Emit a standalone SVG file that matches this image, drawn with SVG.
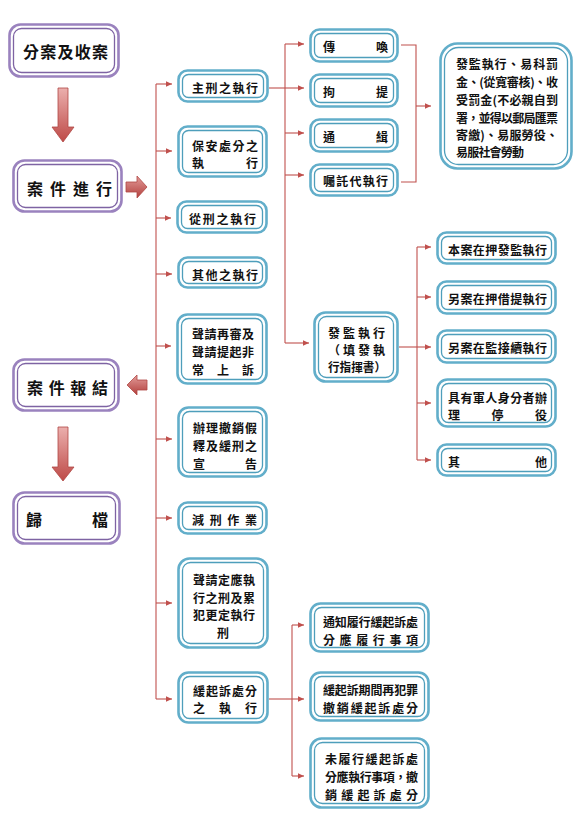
<svg xmlns="http://www.w3.org/2000/svg" width="578" height="816" viewBox="0 0 578 816">
<defs>
<style>
.bo{fill:#fff;stroke:#62AECA;stroke-width:2.6}
.bi{fill:none;stroke:#4E9EBB;stroke-width:1.3}
.po{fill:#fff;stroke:#9A82BE;stroke-width:2.6}
.pi{fill:none;stroke:#7E63A3;stroke-width:1.3}
.t{font-family:"Noto Sans CJK TC","Noto Sans CJK SC",sans-serif;font-weight:bold;font-size:12px;fill:#111;dominant-baseline:central}
.tp{font-family:"Noto Sans CJK TC","Noto Sans CJK SC",sans-serif;font-weight:bold;font-size:16px;fill:#111;dominant-baseline:central}
.c{fill:none;stroke:#C0504D;stroke-width:1.1}
.ca{fill:none;stroke:#C0504D;stroke-width:1.1;marker-end:url(#ah)}
.blk{stroke:#B04744;stroke-width:0.8}
</style>
<marker id="ah" viewBox="0 0 10 10" refX="10" refY="5" markerWidth="7" markerHeight="6" orient="auto" markerUnits="userSpaceOnUse">
<path d="M0,0.5 L10,5 L0,9.5z" fill="#C0504D"/>
</marker>
<linearGradient id="gv" x1="0" y1="0" x2="0" y2="1">
<stop offset="0" stop-color="#EBAFAD"/>
<stop offset="1" stop-color="#BE4A47"/>
</linearGradient>
<linearGradient id="gh" x1="0" y1="0" x2="0" y2="1">
<stop offset="0" stop-color="#E39C9A"/>
<stop offset="1" stop-color="#B23F3C"/>
</linearGradient>
</defs>
<rect width="578" height="816" fill="#fff"/>

<g id="block-arrows">
<path class="blk" fill="url(#gv)" d="M58,88 H68 V127 H74 L63,142 L52,127 H58 Z"/>
<path class="blk" fill="url(#gh)" d="M126,182 H137 V176 L147,187 L137,198 V192 H126 Z"/>
<path class="blk" fill="url(#gh)" d="M147,380 H137 V375 L127,385 L137,395 V390 H147 Z"/>
<path class="blk" fill="url(#gv)" d="M58,427 H68 V467 H74 L63,481 L52,467 H58 Z"/>
</g>

<g id="connectors">
<path class="c" d="M156,84 V699"/>
<path class="ca" d="M156,84 H172"/>
<path class="ca" d="M156,151 H172"/>
<path class="ca" d="M156,218 H171"/>
<path class="ca" d="M156,274 H172"/>
<path class="ca" d="M156,346 H171"/>
<path class="ca" d="M156,439 H172"/>
<path class="ca" d="M156,518 H172"/>
<path class="ca" d="M156,603 H172"/>
<path class="ca" d="M156,699 H172"/>
<path class="c" d="M269,88 H285"/>
<path class="c" d="M285,44 V343"/>
<path class="ca" d="M285,44 H304"/>
<path class="ca" d="M285,88 H304"/>
<path class="ca" d="M285,133 H304"/>
<path class="ca" d="M285,175 H304"/>
<path class="ca" d="M285,343 H309"/>
<path class="c" d="M401,45 H416 V182 H401"/>
<path class="ca" d="M416,106 H431"/>
<path class="c" d="M399,347 H417"/>
<path class="c" d="M417,247 V460"/>
<path class="ca" d="M417,247 H431"/>
<path class="ca" d="M417,297 H431"/>
<path class="ca" d="M417,347 H431"/>
<path class="ca" d="M417,403 H431"/>
<path class="ca" d="M417,460 H431"/>
<path class="c" d="M269,699 H292"/>
<path class="c" d="M292,625 V776"/>
<path class="ca" d="M292,625 H304"/>
<path class="ca" d="M292,699 H304"/>
<path class="ca" d="M292,776 H304"/>
</g>

<g id="n-fenan">
<rect class="po" x="9.5" y="24.5" width="109" height="52" rx="11"/>
<rect class="pi" x="13.5" y="28.5" width="101" height="44" rx="8"/>
<text class="tp" x="23" y="51" textLength="85" lengthAdjust="spacing">分案及收案</text>
</g>
<g id="n-jinxing">
<rect class="po" x="13.5" y="160.5" width="108" height="51" rx="11"/>
<rect class="pi" x="17.5" y="164.5" width="100" height="43" rx="8"/>
<text class="tp" x="27" y="188" textLength="85" lengthAdjust="spacing">案件進行</text>
</g>
<g id="n-baojie">
<rect class="po" x="13.5" y="359.5" width="105" height="51" rx="11"/>
<rect class="pi" x="17.5" y="363.5" width="97" height="43" rx="8"/>
<text class="tp" x="27" y="387" textLength="81" lengthAdjust="spacing">案件報結</text>
</g>
<g id="n-guidang">
<rect class="po" x="13.5" y="492.5" width="106" height="51" rx="11"/>
<rect class="pi" x="17.5" y="496.5" width="98" height="43" rx="8"/>
<text class="tp" x="26" y="519" textLength="82" lengthAdjust="spacing">歸檔</text>
</g>

<g id="n-zhuxing">
<rect class="bo" x="178.5" y="70.5" width="89" height="31" rx="9"/>
<rect class="bi" x="182.5" y="74.5" width="81" height="23" rx="6"/>
<text class="t" x="192" y="87" textLength="66" lengthAdjust="spacing">主刑之執行</text>
</g>
<g id="n-baoan">
<rect class="bo" x="178.5" y="126.5" width="88" height="50" rx="9"/>
<rect class="bi" x="182.5" y="130.5" width="80" height="42" rx="6"/>
<text class="t" x="192" y="145" textLength="66" lengthAdjust="spacing">保安處分之</text>
<text class="t" x="192" y="162" textLength="66" lengthAdjust="spacing">執行</text>
</g>
<g id="n-congxing">
<rect class="bo" x="177.5" y="201.5" width="89" height="31" rx="9"/>
<rect class="bi" x="181.5" y="205.5" width="81" height="23" rx="6"/>
<text class="t" x="189" y="218" textLength="67" lengthAdjust="spacing">從刑之執行</text>
</g>
<g id="n-qita">
<rect class="bo" x="178.5" y="257.5" width="88" height="30" rx="9"/>
<rect class="bi" x="182.5" y="261.5" width="80" height="22" rx="6"/>
<text class="t" x="192" y="274" textLength="66" lengthAdjust="spacing">其他之執行</text>
</g>
<g id="n-zaishen">
<rect class="bo" x="177.5" y="314.5" width="89" height="69" rx="10"/>
<rect class="bi" x="181.5" y="318.5" width="81" height="61" rx="7"/>
<text class="t" x="192" y="333" textLength="62" lengthAdjust="spacing">聲請再審及</text>
<text class="t" x="192" y="351" textLength="62" lengthAdjust="spacing">聲請提起非</text>
<text class="t" x="192" y="369" textLength="62" lengthAdjust="spacing">常上訴</text>
</g>
<g id="n-jiashi">
<rect class="bo" x="178.5" y="407.5" width="88" height="69" rx="10"/>
<rect class="bi" x="182.5" y="411.5" width="80" height="61" rx="7"/>
<text class="t" x="193" y="427" textLength="64" lengthAdjust="spacing">辦理撤銷假</text>
<text class="t" x="193" y="445" textLength="64" lengthAdjust="spacing">釋及緩刑之</text>
<text class="t" x="193" y="463" textLength="64" lengthAdjust="spacing">宣告</text>
</g>
<g id="n-jianxing">
<rect class="bo" x="178.5" y="502.5" width="88" height="31" rx="9"/>
<rect class="bi" x="182.5" y="506.5" width="80" height="23" rx="6"/>
<text class="t" x="192" y="519" textLength="65" lengthAdjust="spacing">減刑作業</text>
</g>
<g id="n-dingying">
<rect class="bo" x="178.5" y="558.5" width="89" height="89" rx="11"/>
<rect class="bi" x="182.5" y="562.5" width="81" height="81" rx="8"/>
<text class="t" x="193" y="579" textLength="62" lengthAdjust="spacing">聲請定應執</text>
<text class="t" x="193" y="597" textLength="62" lengthAdjust="spacing">行之刑及累</text>
<text class="t" x="193" y="614" textLength="62" lengthAdjust="spacing">犯更定執行</text>
<text class="t" x="223" y="632" text-anchor="middle">刑</text>
</g>
<g id="n-huanqisu">
<rect class="bo" x="178.5" y="672.5" width="89" height="50" rx="10"/>
<rect class="bi" x="182.5" y="676.5" width="81" height="42" rx="7"/>
<text class="t" x="193" y="690" textLength="64" lengthAdjust="spacing">緩起訴處分</text>
<text class="t" x="193" y="707" textLength="64" lengthAdjust="spacing">之執行</text>
</g>

<g id="n-chuanhuan">
<rect class="bo" x="310.5" y="29.5" width="87" height="32" rx="9"/>
<rect class="bi" x="314.5" y="33.5" width="79" height="24" rx="6"/>
<text class="t" x="323" y="46" textLength="65" lengthAdjust="spacing">傳喚</text>
</g>
<g id="n-juti">
<rect class="bo" x="310.5" y="74.5" width="87" height="32" rx="9"/>
<rect class="bi" x="314.5" y="78.5" width="79" height="24" rx="6"/>
<text class="t" x="323" y="91" textLength="65" lengthAdjust="spacing">拘提</text>
</g>
<g id="n-tongji">
<rect class="bo" x="310.5" y="119.5" width="87" height="32" rx="9"/>
<rect class="bi" x="314.5" y="123.5" width="79" height="24" rx="6"/>
<text class="t" x="323" y="136" textLength="65" lengthAdjust="spacing">通緝</text>
</g>
<g id="n-zhutuo">
<rect class="bo" x="310.5" y="164.5" width="87" height="31" rx="9"/>
<rect class="bi" x="314.5" y="168.5" width="79" height="23" rx="6"/>
<text class="t" x="323" y="180" textLength="65" lengthAdjust="spacing">囑託代執行</text>
</g>
<g id="n-fajian">
<rect class="bo" x="314.5" y="312.5" width="83" height="69" rx="11"/>
<rect class="bi" x="318.5" y="316.5" width="75" height="61" rx="8"/>
<text class="t" x="328" y="332" textLength="57" lengthAdjust="spacing">發監執行</text>
<text class="t" x="328" y="349" textLength="57" lengthAdjust="spacing">（填發執</text>
<text class="t" x="328" y="366" textLength="58" lengthAdjust="spacingAndGlyphs">行指揮書）</text>
</g>
<g id="n-yike">
<rect class="bo" x="440.5" y="43.5" width="131" height="125" rx="17"/>
<rect class="bi" x="444.5" y="47.5" width="123" height="117" rx="14"/>
<text class="t" x="456" y="63" textLength="102" lengthAdjust="spacing">發監執行、易科罰</text>
<text class="t" x="456" y="81" textLength="102" lengthAdjust="spacing">金、(從寬審核)、收</text>
<text class="t" x="456" y="99" textLength="102" lengthAdjust="spacing">受罰金(不必親自到</text>
<text class="t" x="456" y="117" textLength="102" lengthAdjust="spacing">署，並得以郵局匯票</text>
<text class="t" x="456" y="134" textLength="102" lengthAdjust="spacing">寄繳)、易服勞役、</text>
<text class="t" x="456" y="151" textLength="68" lengthAdjust="spacing">易服社會勞動</text>
</g>

<g id="n-benan">
<rect class="bo" x="437.5" y="232.5" width="118" height="31" rx="9"/>
<rect class="bi" x="441.5" y="236.5" width="110" height="23" rx="6"/>
<text class="t" x="448" y="249" textLength="99" lengthAdjust="spacing">本案在押發監執行</text>
</g>
<g id="n-jieti">
<rect class="bo" x="437.5" y="281.5" width="118" height="32" rx="9"/>
<rect class="bi" x="441.5" y="285.5" width="110" height="24" rx="6"/>
<text class="t" x="448" y="298" textLength="99" lengthAdjust="spacing">另案在押借提執行</text>
</g>
<g id="n-jiexu">
<rect class="bo" x="437.5" y="330.5" width="118" height="32" rx="9"/>
<rect class="bi" x="441.5" y="334.5" width="110" height="24" rx="6"/>
<text class="t" x="448" y="347" textLength="99" lengthAdjust="spacing">另案在監接續執行</text>
</g>
<g id="n-junren">
<rect class="bo" x="437.5" y="379.5" width="118" height="47" rx="10"/>
<rect class="bi" x="441.5" y="383.5" width="110" height="39" rx="7"/>
<text class="t" x="448" y="397" textLength="99" lengthAdjust="spacing">具有軍人身分者辦</text>
<text class="t" x="448" y="414" textLength="99" lengthAdjust="spacing">理停役</text>
</g>
<g id="n-qita2">
<rect class="bo" x="437.5" y="444.5" width="118" height="31" rx="9"/>
<rect class="bi" x="441.5" y="448.5" width="110" height="23" rx="6"/>
<text class="t" x="448" y="461" textLength="99" lengthAdjust="spacing">其他</text>
</g>

<g id="n-tongzhi">
<rect class="bo" x="310.5" y="603.5" width="118" height="48" rx="10"/>
<rect class="bi" x="314.5" y="607.5" width="110" height="40" rx="7"/>
<text class="t" x="323" y="621" textLength="95" lengthAdjust="spacing">通知履行緩起訴處</text>
<text class="t" x="323" y="639" textLength="95" lengthAdjust="spacing">分應履行事項</text>
</g>
<g id="n-zaifan">
<rect class="bo" x="310.5" y="672.5" width="118" height="48" rx="10"/>
<rect class="bi" x="314.5" y="676.5" width="110" height="40" rx="7"/>
<text class="t" x="323" y="689" textLength="95" lengthAdjust="spacing">緩起訴期間再犯罪</text>
<text class="t" x="323" y="707" textLength="95" lengthAdjust="spacing">撤銷緩起訴處分</text>
</g>
<g id="n-weilvxing">
<rect class="bo" x="310.5" y="738.5" width="118" height="69" rx="11"/>
<rect class="bi" x="314.5" y="742.5" width="110" height="61" rx="8"/>
<text class="t" x="325" y="758" textLength="93" lengthAdjust="spacing">未履行緩起訴處</text>
<text class="t" x="325" y="776" textLength="93" lengthAdjust="spacing">分應執行事項，撤</text>
<text class="t" x="325" y="794" textLength="93" lengthAdjust="spacing">銷緩起訴處分</text>
</g>
</svg>
